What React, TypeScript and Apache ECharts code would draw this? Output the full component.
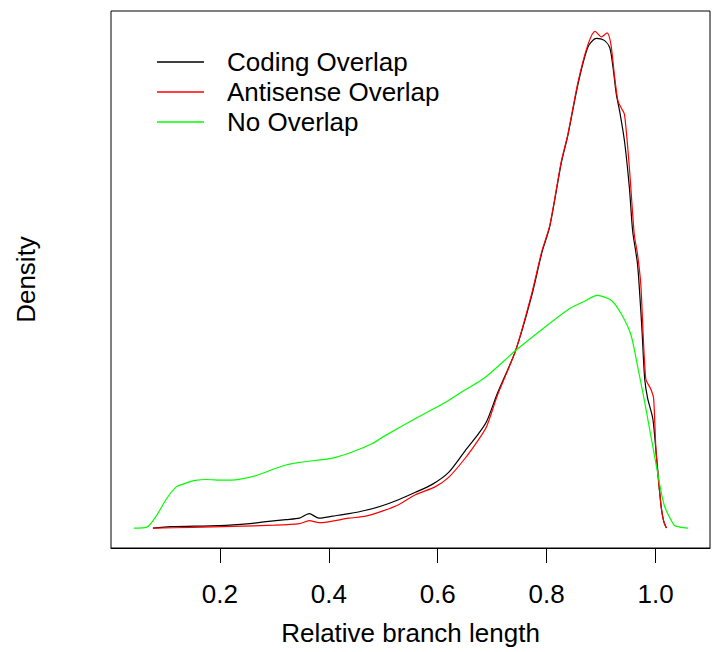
import React, { useEffect, useRef } from "react";
import * as echarts from "echarts";

const seriesNames = ["Coding Overlap", "Antisense Overlap", "No Overlap"];
const seriesColors = ["#000000", "#FF0000", "#00FF00"];

const codingX = [0.077, 0.11, 0.2, 0.255, 0.285, 0.321, 0.346, 0.364, 0.382, 0.407, 0.437, 0.468, 0.498, 0.528, 0.559, 0.59, 0.62, 0.65, 0.675, 0.69, 0.71, 0.743, 0.772, 0.791, 0.806, 0.827, 0.839, 0.858, 0.876, 0.891, 0.906, 0.916, 0.922, 0.928, 0.934, 0.943, 0.952, 0.958, 0.967, 0.975, 0.98, 0.9855, 0.995, 1.001, 1.01, 1.015, 1.02];
const codingY = [0, 0.013, 0.022, 0.04, 0.057, 0.075, 0.088, 0.128, 0.088, 0.106, 0.128, 0.158, 0.198, 0.251, 0.317, 0.387, 0.493, 0.682, 0.836, 0.946, 1.197, 1.571, 2.046, 2.433, 2.675, 3.234, 3.476, 3.938, 4.259, 4.334, 4.316, 4.25, 4.074, 3.837, 3.692, 3.423, 3.01, 2.627, 2.332, 1.76, 1.324, 1.148, 0.968, 0.673, 0.202, 0.06, 0];

const antisenseX = [0.077, 0.15, 0.224, 0.3, 0.346, 0.364, 0.382, 0.437, 0.468, 0.498, 0.528, 0.559, 0.595, 0.62, 0.65, 0.675, 0.69, 0.71, 0.743, 0.772, 0.791, 0.806, 0.827, 0.839, 0.858, 0.876, 0.889, 0.901, 0.911, 0.918, 0.925, 0.931, 0.937, 0.943, 0.952, 0.961, 0.967, 0.973, 0.982, 0.992, 0.9965, 1.001, 1.01, 1.015, 1.02];
const antisenseY = [0, 0.006, 0.015, 0.026, 0.04, 0.066, 0.048, 0.088, 0.106, 0.15, 0.207, 0.295, 0.365, 0.449, 0.616, 0.783, 0.902, 1.179, 1.571, 2.064, 2.446, 2.684, 3.247, 3.485, 3.956, 4.281, 4.396, 4.347, 4.382, 4.281, 3.986, 3.78, 3.718, 3.661, 3.186, 2.596, 2.42, 2.152, 1.324, 1.223, 1.148, 0.673, 0.202, 0.06, 0];

const noOverlapX = [0.042, 0.066, 0.084, 0.102, 0.12, 0.139, 0.155, 0.175, 0.205, 0.235, 0.267, 0.315, 0.346, 0.407, 0.443, 0.48, 0.502, 0.56, 0.611, 0.647, 0.687, 0.743, 0.792, 0.843, 0.869, 0.893, 0.919, 0.938, 0.955, 0.968, 0.98, 1.004, 1.016, 1.034, 1.045, 1.06];
const noOverlapY = [0, 0.009, 0.114, 0.26, 0.365, 0.4, 0.422, 0.43, 0.424, 0.432, 0.466, 0.55, 0.581, 0.62, 0.673, 0.748, 0.814, 0.972, 1.104, 1.214, 1.333, 1.571, 1.76, 1.945, 2.006, 2.059, 2.015, 1.888, 1.707, 1.408, 1.118, 0.484, 0.202, 0.026, 0.009, 0];

const xTickValues = [0.2, 0.4, 0.6, 0.8, 1.0];

const FONT = '"Liberation Sans", Arial, Helvetica, sans-serif';

function zip(xs: number[], ys: number[]) {
  return xs.map((x, i) => [x, ys[i]]);
}

export default function App() {
  const ref = useRef<HTMLDivElement>(null);
  useEffect(() => {
    if (!ref.current) return;
    const chart = echarts.init(ref.current, undefined, { renderer: "svg" });
    const seriesData = [
      zip(codingX, codingY),
      zip(antisenseX, antisenseY),
      zip(noOverlapX, noOverlapY),
    ];
    const yMax = 4.4;
    chart.setOption({
      animation: false,
      backgroundColor: "#ffffff",
      textStyle: { fontFamily: FONT, color: "#000" },
      grid: {
        left: 111,
        right: 13,
        top: 11,
        bottom: 104,
        show: true,
        borderColor: "#000",
        borderWidth: 1,
        backgroundColor: "transparent",
      },
      legend: {
        orient: "vertical",
        left: 157,
        top: 47,
        padding: 0,
        itemWidth: 47,
        itemHeight: 1.3,
        itemGap: 0,
        icon: "rect",
        data: seriesNames.map((name, i) => ({
          name,
          itemStyle: { color: seriesColors[i] },
        })),
        textStyle: {
          fontFamily: FONT,
          fontSize: 26,
          color: "#000",
          lineHeight: 30,
          padding: [0, 0, 0, 18],
        },
      },
      xAxis: {
        type: "value",
        min: 0,
        max: 1.1,
        interval: 0.2,
        axisLine: { show: true, onZero: false, lineStyle: { color: "#000", width: 1 } },
        splitLine: { show: false },
        axisTick: {
          show: true,
          inside: false,
          length: 15,
          lineStyle: { color: "#000", width: 1 },
          customValues: xTickValues,
        },
        axisLabel: {
          show: true,
          margin: 33,
          fontSize: 26,
          fontFamily: FONT,
          color: "#000",
          customValues: xTickValues,
          formatter: (v: number) => v.toFixed(1),
        },
        name: "Relative branch length",
        nameLocation: "middle",
        nameGap: 72,
        nameTextStyle: { fontSize: 26, fontFamily: FONT, color: "#000" },
      },
      yAxis: {
        type: "value",
        min: -0.04 * yMax,
        max: 1.04 * yMax,
        axisLine: { show: false, onZero: false },
        axisTick: { show: false },
        axisLabel: { show: false },
        splitLine: { show: false },
        name: "Density",
        nameLocation: "middle",
        nameGap: 72,
        nameTextStyle: { fontSize: 26, fontFamily: FONT, color: "#000" },
      },
      series: seriesNames.map((name, i) => ({
        name,
        type: "line",
        data: seriesData[i],
        symbol: "none",
        smooth: 0.25,
        lineStyle: { color: seriesColors[i], width: 1.2 },
        itemStyle: { color: seriesColors[i] },
      })),
    });
    return () => chart.dispose();
  }, []);
  return (
    <div
      ref={ref}
      style={{ position: "fixed", left: 0, top: 0, width: 723, height: 652, background: "#fff" }}
    />
  );
}
